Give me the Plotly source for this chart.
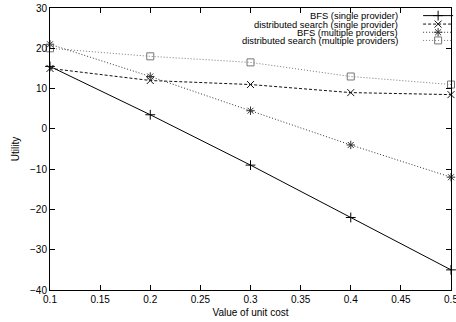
import plotly.graph_objects as go

unit_cost = [0.1, 0.2, 0.3, 0.4, 0.5]
bfs_single = [15.5, 3.5, -9, -22, -35]
ds_single = [15, 12, 11, 9, 8.5]
bfs_multi = [21, 13, 4.5, -4, -12]
ds_multi = [20, 18, 16.5, 13, 11]

names = ["BFS (single provider)", "distributed search (single provider)",
         "BFS (multiple providers)", "distributed search (multiple providers)"]
x_ticks = [0.1, 0.15, 0.2, 0.25, 0.3, 0.35, 0.4, 0.45, 0.5]
y_ticks = [-40, -30, -20, -10, 0, 10, 20, 30]

styles = [
    dict(color="#000000", dash="solid", symbol="cross-thin-open"),
    dict(color="#111111", dash="3px,2px", symbol="x-thin-open"),
    dict(color="#333333", dash="1px,2px", symbol="asterisk-open"),
    dict(color="#777777", dash="1px,2px", symbol="square-open"),
]
legend_ids = ["legend", "legend2", "legend3", "legend4"]
# legend rows (paper fractions of the plot area height)
row_y = [0.973, 0.943, 0.914, 0.885]
legend_x = 0.918   # left edge of the legend samples
label_x = 0.873    # right edge of the legend labels

fig = go.Figure()
for name, ys, st, lid in zip(names, [bfs_single, ds_single, bfs_multi, ds_multi], styles, legend_ids):
    fig.add_trace(go.Scatter(
        x=unit_cost, y=ys, name=name, mode="lines+markers", legend=lid,
        line=dict(color=st["color"], width=1, dash=st["dash"]),
        marker=dict(symbol=st["symbol"], size=7, color=st["color"],
                    line=dict(color=st["color"], width=1)),
        cliponaxis=False,
    ))

axis_common = dict(showgrid=False, zeroline=False, showline=True, linecolor="black",
                   linewidth=1, mirror="ticks", ticks="inside", ticklen=5,
                   tickcolor="black", tickfont=dict(size=10, color="black"))
fig.update_xaxes(range=[0.1, 0.5], tickvals=x_ticks,
                 ticktext=[f"{v:g}" for v in x_ticks], ticklabeloverflow="allow",
                 title=dict(text="Value of unit cost", font=dict(size=10, color="black"), standoff=4),
                 **axis_common)
fig.update_yaxes(range=[-40, 30], tickvals=y_ticks,
                 title=dict(text="Utility", font=dict(size=10, color="black"), standoff=8),
                 **axis_common)

legend_layout = {}
for lid, ly in zip(legend_ids, row_y):
    legend_layout[lid] = dict(
        x=legend_x, y=ly, xanchor="left", yanchor="middle",
        bgcolor="rgba(0,0,0,0)", borderwidth=0,
        font=dict(size=1, color="rgba(0,0,0,0)"),
        itemwidth=30,
    )

annotations = [
    dict(text=name, xref="paper", yref="paper", x=label_x, y=ly,
         xanchor="right", yanchor="middle", showarrow=False,
         font=dict(size=9.4, color="black"))
    for name, ly in zip(names, row_y)
]

fig.update_layout(
    width=456, height=322,
    margin=dict(l=50, r=5, t=8, b=32, autoexpand=False),
    paper_bgcolor="white", plot_bgcolor="white",
    font=dict(family="Liberation Sans, Arial, sans-serif", size=10, color="black"),
    showlegend=True,
    annotations=annotations,
    **legend_layout,
)

fig.write_html("out.html")
